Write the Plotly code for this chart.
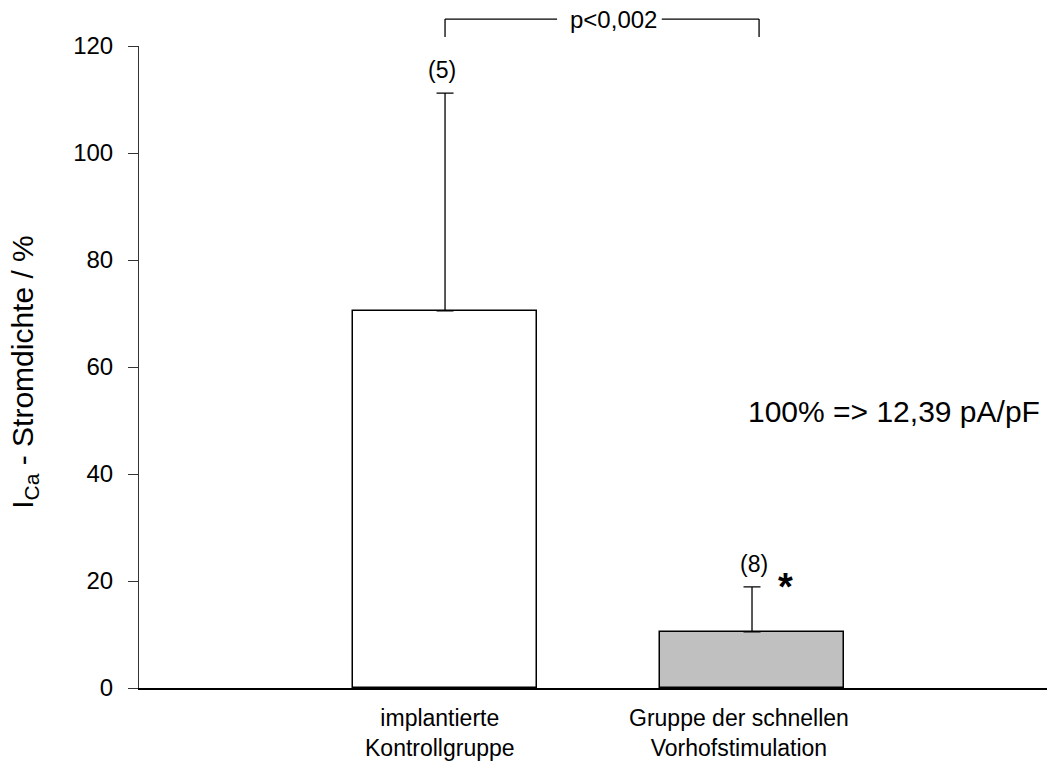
import plotly.graph_objects as go

# Group labels, means (in % of 12,39 pA/pF) and one-sided standard deviations
categories = ["implantierte<br>Kontrollgruppe", "Gruppe der schnellen<br>Vorhofstimulation"]
x_pos = [1, 2]
means = [70.5, 10.5]
sd = [40.7, 8.4]
n_cells = ["(5)", "(8)"]
bar_colors = ["#ffffff", "#c0c0c0"]
y_ticks = [0, 20, 40, 60, 80, 100, 120]

FONT = "Arial, 'Liberation Sans', Helvetica, sans-serif"

fig = go.Figure()
fig.add_trace(go.Bar(
    x=x_pos,
    y=means,
    width=0.6,
    marker=dict(color=bar_colors, line=dict(color="#000000", width=1.5)),
    error_y=dict(type="data", array=sd, arrayminus=[0, 0], symmetric=False,
                 color="#000000", thickness=1.3, width=8.5),
    showlegend=False,
    hoverinfo="skip",
))

annotations = []
# n per group above the error bars
for xv, m, s, lab, dx in zip(x_pos, means, sd, n_cells, [-0.01, 0.006]):
    annotations.append(dict(x=xv + dx, y=m + s, xref="x", yref="y", text=lab,
                            showarrow=False, xanchor="center", yanchor="middle", yshift=23,
                            font=dict(size=23, color="#000000", family=FONT)))
# significance star for the stimulated group
annotations.append(dict(x=x_pos[1] + 0.108, y=means[1] + sd[1], xref="x", yref="y",
                        text="<b>*</b>", showarrow=False, xanchor="center", yanchor="middle",
                        yshift=0, font=dict(size=38, color="#000000", family=FONT)))
# group labels below the axis
for xv, lab, dx in zip(x_pos, categories, [-0.015, -0.043]):
    annotations.append(dict(x=xv + dx, y=0, xref="x", yref="y", text=lab,
                            showarrow=False, xanchor="center", yanchor="top", yshift=-15,
                            font=dict(size=23, color="#000000", family=FONT)))
# p-value on the bracket
annotations.append(dict(x=1.55, y=1.041, xref="x", yref="paper", text="p<0,002",
                        showarrow=False, xanchor="center", yanchor="middle",
                        font=dict(size=24, color="#000000", family=FONT)))
# reference current density note
annotations.append(dict(x=0.832, y=0.430, xref="paper", yref="paper",
                        text="100% => 12,39 pA/pF", showarrow=False,
                        xanchor="center", yanchor="middle",
                        font=dict(size=30, color="#000000", family=FONT)))
# y axis title
annotations.append(dict(x=-0.127, y=0.492, xref="paper", yref="paper",
                        text="I<sub>Ca</sub> - Stromdichte / %", textangle=-90,
                        showarrow=False, xanchor="center", yanchor="middle",
                        font=dict(size=30, color="#000000", family=FONT)))

# significance bracket between the two groups
br_line = dict(color="#000000", width=1.3)
shapes = [
    dict(type="line", xref="x", yref="paper", x0=1, x1=1, y0=1.014, y1=1.042, line=br_line),
    dict(type="line", xref="x", yref="paper", x0=1, x1=1.365, y0=1.042, y1=1.042, line=br_line),
    dict(type="line", xref="x", yref="paper", x0=1.706, x1=2.023, y0=1.042, y1=1.042, line=br_line),
    dict(type="line", xref="x", yref="paper", x0=2.023, x1=2.023, y0=1.014, y1=1.042, line=br_line),
]

fig.update_layout(
    width=1048, height=771,
    margin=dict(l=139, r=1, t=46, b=83),
    paper_bgcolor="#ffffff", plot_bgcolor="#ffffff",
    font=dict(family=FONT, color="#000000"),
    annotations=annotations,
    shapes=shapes,
    bargap=0,
)
fig.update_xaxes(range=[0.003, 2.961], showline=True, linecolor="#000000", linewidth=2,
                 showticklabels=False, ticks="", showgrid=False, zeroline=False)
fig.update_yaxes(range=[0, 120], tickvals=y_ticks, showline=True, linecolor="#333333",
                 linewidth=1, ticks="outside", ticklen=10, tickwidth=1, tickcolor="#333333",
                 ticklabelstandoff=10,
                 tickfont=dict(size=24, color="#000000", family=FONT),
                 showgrid=False, zeroline=False)

fig.write_html("out.html")
